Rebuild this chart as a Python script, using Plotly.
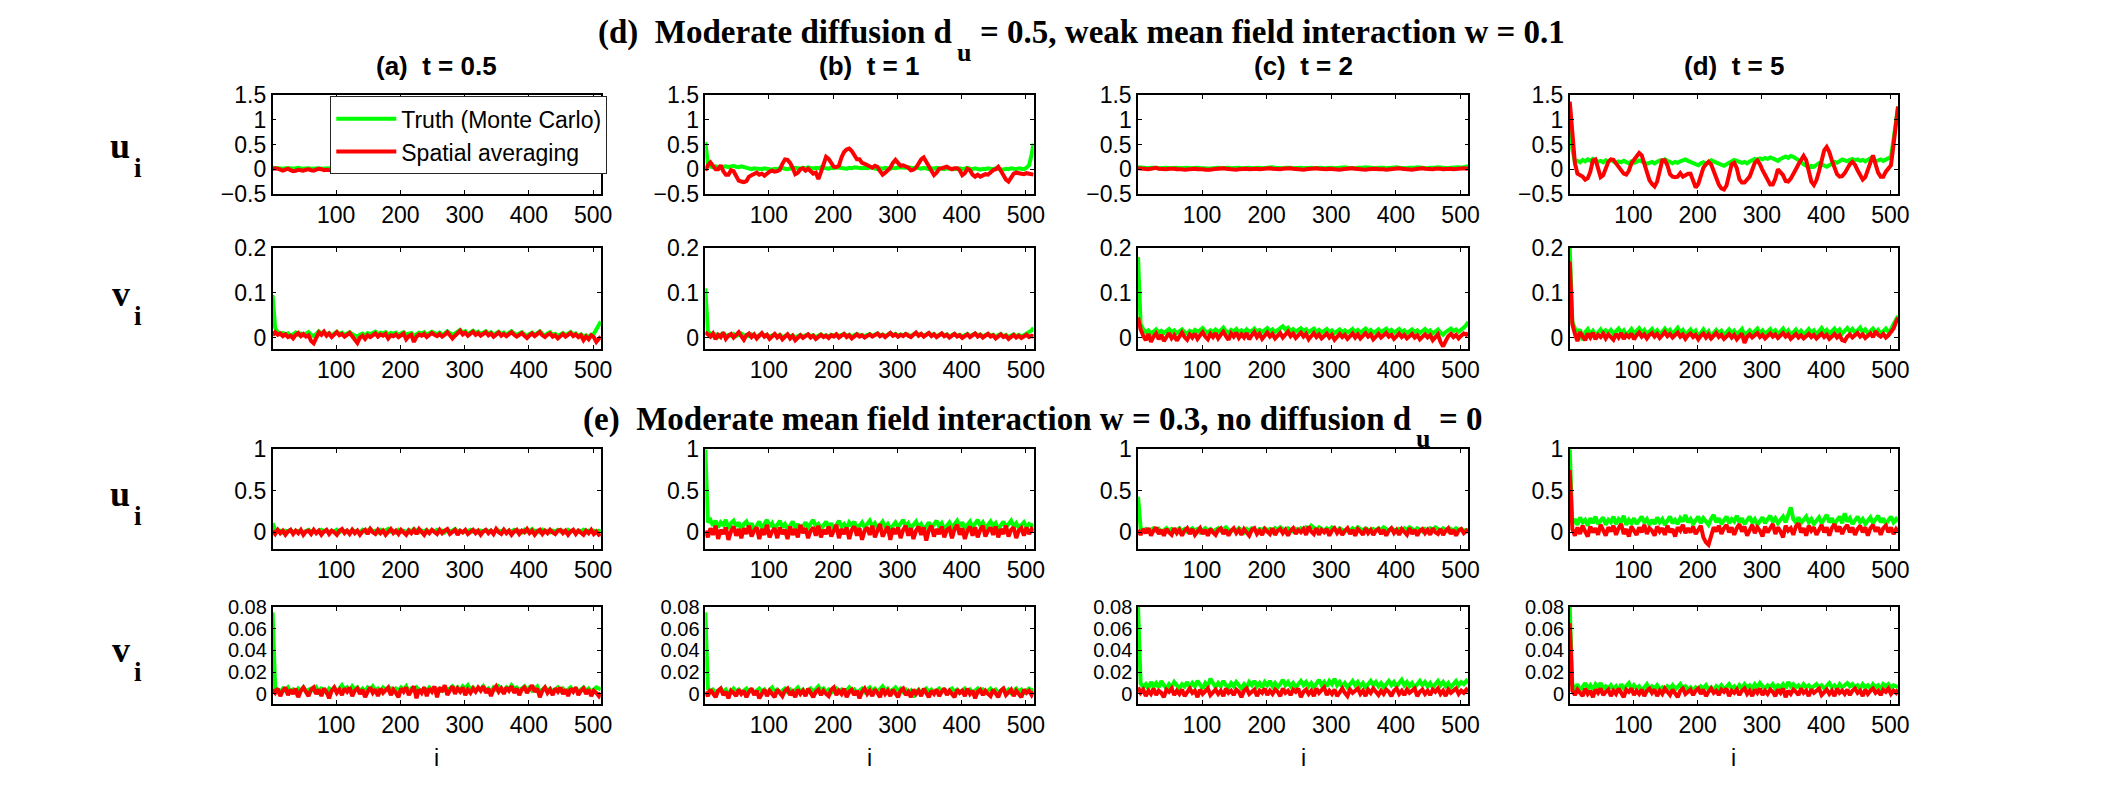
import plotly.graph_objects as go

W, H = 2109, 798

# spatial index i (sampled every 4th site, 1..512)
i_grid = list(range(1, 510, 4)) + [512]

# ---------------- (d) d_u = 0.5, w = 0.1 : u_i ----------------
u_d_t05_truth = [
 .03,.02,.03,.02,.01,.02,.03,.02,.01,.02,.03,.01,.02,.03,.02,.01,
 .02,.03,.02,.01,.02,.03,.02,.01,.02,.01,.02,.03,.02,.03,.02,.01,
 .02,.03,.02,.03,.04,.02,.03,.02,.03,.04,.03,.02,.03,.04,.03,.04,
 .03,.04,.03,.04,.05,.04,.05,.06,.04,.05,.03,.04,.03,.04,.03,.02,
 .03,.04,.05,.04,.03,.04,.03,.02,.03,.02,.03,.02,.03,.02,.03,.02,
 .02,.03,.02,.01,.02,.03,.02,.01,.02,.01,.02,.01,.02,.03,.02,.01,
 .02,.01,.02,.03,.02,.01,.02,.03,.02,.01,.02,.01,.02,.01,.02,.03,
 .02,.03,.02,.01,.02,.03,.02,.01,.02,.01,.02,.03,.02,.03,.04,.05,
 .06]
u_d_t05_avg = [
 0,.02,.01,-.02,-.03,-.01,.01,-.02,-.04,-.03,-.01,-.02,-.03,-.01,0,-.02,
 -.03,-.01,.01,0,-.02,-.01,-.02,-.04,-.03,-.02,-.01,.01,0,-.02,-.01,.01,
 .02,.01,-.01,0,.01,0,-.01,-.02,0,.02,.01,0,.01,.02,.03,.02,
 .04,.03,.02,.03,.04,.03,.05,.07,.05,.03,.02,.01,.02,.01,.03,.02,
 .01,.03,.06,.08,.05,.03,.02,.03,.02,.01,.03,.02,.01,0,.02,.01,
 0,.01,-.01,0,.02,.01,0,-.01,.01,0,-.02,-.01,.01,.02,0,-.02,
 -.03,-.01,0,.01,0,-.01,.01,.03,.02,0,-.01,.01,0,-.02,-.01,.01,
 .03,.02,0,-.01,.01,.02,0,-.01,-.02,0,.01,-.01,-.02,0,-.01,-.02,
 -.03]
u_d_t1_truth = [
 .55,.12,.05,.04,.06,.05,.03,.05,.06,.04,.05,.07,.05,.04,.06,.05,
 .03,.01,0,.02,.01,-.01,0,.02,.01,0,-.01,.01,0,.02,.03,.01,
 0,.02,.01,.03,.02,.01,.03,.02,.04,.02,.01,.03,.02,.04,.03,.02,
 .01,.03,.02,.04,.03,.02,.03,.01,.03,.02,.04,.03,.01,.02,.03,.02,
 .04,.03,.02,0,.02,.01,.03,.02,.01,.03,.02,.04,.03,.02,.03,.04,
 .03,.02,.04,.02,.01,.03,.01,0,.02,.01,.03,.02,.01,0,.02,.01,
 .02,0,.01,.02,0,.01,.03,.01,0,.02,.01,-.01,.01,0,.02,.01,
 0,.02,.01,0,-.01,.01,0,.02,.01,0,.02,.01,0,.03,.08,.3,
 .52]
u_d_t1_avg = [
 -.03,.08,.14,.07,0,0,.08,-.04,-.11,-.11,-.02,-.04,-.13,-.23,-.25,-.26,
 -.24,-.15,-.12,-.09,-.07,-.11,-.09,-.13,-.08,-.05,-.03,-.05,-.04,-.01,.11,.2,
 .19,.13,.03,-.1,-.07,0,.02,-.03,.01,-.05,-.09,-.07,-.2,-.06,.12,.25,
 .21,.12,.05,.04,.07,.24,.35,.4,.42,.37,.27,.2,.2,.13,.11,.09,
 .06,.03,.07,.05,-.04,-.11,-.07,-.02,.03,.13,.19,.13,.07,.08,.06,.03,
 -.02,-.01,.03,.12,.2,.24,.14,.05,-.04,-.12,-.07,.01,.02,.03,.05,.02,
 0,.02,.02,-.02,-.12,-.08,.01,-.02,-.11,-.15,-.11,-.15,-.13,-.1,-.11,-.05,
 -.02,0,.05,-.03,-.13,-.21,-.25,-.16,-.09,-.07,-.07,-.09,-.1,-.08,-.09,-.1,
 -.11]
u_d_t2_truth = [
 .04,.03,.02,.03,.02,.03,.04,.03,.02,.03,.02,.03,.02,.03,.04,.03,
 .02,.03,.02,.03,.02,.03,.04,.03,.02,.03,.02,.01,.02,.03,.02,.03,
 .02,.03,.04,.03,.02,.03,.02,.03,.02,.03,.04,.03,.02,.03,.04,.03,
 .02,.03,.02,.03,.04,.03,.02,.03,.02,.03,.04,.03,.02,.03,.02,.03,
 .02,.03,.02,.03,.02,.03,.04,.03,.02,.03,.02,.03,.02,.03,.02,.03,
 .04,.03,.02,.03,.02,.03,.02,.03,.04,.03,.02,.03,.02,.03,.04,.03,
 .02,.03,.02,.03,.04,.03,.02,.03,.02,.03,.02,.03,.04,.03,.02,.03,
 .02,.03,.02,.03,.04,.03,.02,.03,.02,.03,.04,.03,.04,.03,.04,.05,
 .06]
u_d_t2_avg = [
 .02,.01,.02,.01,0,.01,.02,.03,.01,0,-.01,0,.01,.02,.01,0,
 .01,0,-.01,0,.01,.02,.01,0,.01,0,-.01,-.02,-.01,0,.01,0,
 .01,.02,.01,0,.01,0,-.01,0,.01,.02,.01,0,.01,.02,.01,0,
 .01,0,.01,.02,.01,0,.01,0,.01,.02,.03,.02,.01,0,.01,0,
 -.01,0,.01,0,.01,.02,.01,0,-.01,0,.01,0,-.01,-.02,-.01,0,
 .01,0,.01,.02,.01,0,.01,0,-.01,0,.01,.02,.01,0,.01,0,
 -.01,0,.01,0,.01,.02,.01,0,.01,0,-.01,0,.01,.03,.02,.01,
 0,.01,0,.01,.02,.01,0,.01,.02,.01,0,.01,.02,.01,.02,.01,
 .02]
u_d_t5_truth = [
 1.2,.4,.15,.17,.14,.19,.16,.2,.17,.21,.18,.15,.17,.14,.18,.16,
 .19,.15,.13,.16,.14,.17,.15,.12,.16,.13,.15,.18,.16,.14,.11,.13,
 .15,.12,.14,.18,.16,.2,.17,.14,.12,.15,.13,.16,.18,.2,.17,.15,
 .13,.1,.08,.12,.14,.11,.15,.18,.16,.14,.12,.09,.07,.1,.13,.16,
 .19,.17,.14,.13,.15,.12,.16,.18,.21,.19,.22,.2,.23,.21,.24,.22,
 .2,.17,.21,.24,.26,.23,.27,.25,.22,.19,.15,.1,.06,.04,.07,.05,
 .09,.12,.1,.07,.05,.08,.12,.15,.13,.17,.2,.18,.16,.19,.21,.18,
 .2,.17,.19,.16,.2,.22,.19,.16,.18,.2,.17,.19,.21,.25,.6,1.05,
 1.27]
u_d_t5_avg = [
 1.37,.75,.12,-.09,-.12,-.15,-.21,-.18,-.05,.18,.2,0,-.16,-.12,.03,.15,
 .2,.19,.12,.05,-.01,-.09,-.11,-.03,.12,.2,.28,.33,.28,.13,-.08,-.22,
 -.3,-.35,-.25,-.05,.18,.18,.08,-.1,-.15,-.16,-.15,-.08,-.15,-.12,-.09,-.09,
 -.26,-.37,-.3,-.12,.03,.1,.15,.1,-.05,-.2,-.31,-.39,-.41,-.33,-.09,.1,
 .13,.02,-.2,-.27,-.27,-.21,-.15,-.01,.13,.18,.1,-.02,-.12,-.22,-.31,-.31,
 -.19,0,-.06,-.12,-.24,-.25,-.19,-.11,0,.1,.2,.27,.18,-.02,-.25,-.32,
 -.22,-.04,.16,.38,.45,.35,.18,.02,-.1,-.15,-.14,-.08,.03,.1,.15,.09,
 -.02,-.12,-.21,-.16,0,.17,.28,.1,-.07,-.15,-.15,-.05,.03,.08,.5,1.0,
 1.27]

# ---------------- (d) : v_i ----------------
v_d_t05_truth = [
 .095,.022,.012,.008,.01,.006,.009,.004,.007,.011,.006,.009,.005,.008,.012,.006,
 .003,.008,.014,.009,.012,.007,.01,.005,.009,.013,.008,.011,.006,.009,.012,.007,
 .004,.002,.006,.009,.005,.01,.007,.011,.013,.008,.011,.009,.012,.007,.01,.008,
 .011,.006,.009,.012,.007,.008,.01,.004,.007,.011,.009,.012,.006,.009,.013,.01,
 .007,.011,.006,.009,.014,.01,.006,.009,.012,.017,.011,.014,.008,.012,.015,.01,
 .013,.008,.011,.014,.009,.012,.006,.01,.013,.008,.011,.007,.01,.014,.009,.006,
 .009,.012,.007,.004,.008,.011,.006,.01,.014,.008,.005,.009,.012,.006,.008,.004,
 .007,.01,.005,.008,.012,.006,.009,.004,.007,.002,.005,.001,.006,.008,.018,.03,
 .036]
v_d_t05_avg = [
 .005,.012,.006,.009,.003,.007,.001,.004,-.002,.006,.01,.003,.008,.002,.005,-.008,
 -.013,.002,.011,.006,.013,.004,.009,.001,.007,.012,.005,.008,.002,.006,.01,.003,
 -.006,-.012,0,.004,-.003,.005,.001,.006,.009,.002,.007,.004,.008,-.002,.005,.003,
 .007,.001,.005,.009,-.004,.003,.006,-.01,.002,.007,.004,.008,.001,.005,.01,.006,
 .003,.008,.002,.006,.012,.005,-.002,.004,.009,.015,.007,.011,.004,.009,.013,.006,
 .01,.004,.008,.012,.005,.009,.002,.007,.011,.004,.008,.003,.007,.012,.006,.002,
 .006,.01,.004,-.001,.005,.009,.003,.007,.012,.005,.001,.006,.009,.002,.005,-.002,
 .004,.008,.002,.006,.01,.003,.007,.001,.005,-.006,.002,-.004,.005,.001,-.01,-.003,
 .002]
v_d_t1_truth = [
 .11,.014,.008,.004,.007,.002,.006,.009,.003,.006,.004,.008,.003,.006,.009,.004,
 .006,.003,.007,.004,.002,.005,.008,.004,.006,.002,.005,.007,.003,.006,.001,.004,
 .006,.002,.005,0,.003,.006,.002,.004,.007,.003,.005,.001,.004,.007,.003,.005,
 .002,.006,.004,.007,.003,.005,.008,.004,.006,.002,.005,.008,.004,.006,.003,.005,
 .008,.004,.006,.009,.005,.007,.003,.006,.01,.005,.008,.004,.007,.005,.008,.006,
 .003,.007,.01,.006,.008,.004,.007,.01,.005,.008,.003,.006,.009,.005,.007,.002,
 .005,.008,.004,.006,.002,.005,.008,.003,.006,.009,.004,.007,.002,.005,.008,.004,
 .006,.002,.005,.008,.003,.006,.001,.004,.007,.003,.006,.002,.005,.008,.012,.016,
 .022]
v_d_t1_avg = [
 .012,.008,.002,.009,-.004,.006,.001,.011,-.003,.004,.008,0,.006,.012,.003,-.005,
 .005,.009,.001,.007,-.002,.004,.01,.002,.006,-.003,.003,.008,0,.005,-.004,.002,
 .007,-.002,.004,-.006,.001,.005,-.001,.003,.007,0,.004,-.003,.002,.006,.001,.004,
 -.001,.005,.002,.007,0,.004,.008,.001,.005,-.002,.003,.007,.002,.005,0,.004,
 .007,.002,.005,.009,.003,.006,.001,.005,.01,.004,.007,.002,.006,.003,.008,.004,
 .001,.006,.011,.004,.008,.002,.006,.01,.003,.007,.001,.005,.009,.003,.006,0,
 .004,.008,.002,.005,-.001,.003,.007,.001,.005,.009,.002,.006,0,.004,.008,.002,
 .005,-.002,.003,.007,.001,.004,-.003,.002,.006,0,.004,-.001,.003,.006,.001,.004,
 .002]
v_d_t2_truth = [
 .18,.03,.018,.012,.016,.009,.013,.018,.011,.015,.01,.014,.019,.012,.016,.01,
 .014,.018,.012,.009,.015,.011,.017,.013,.016,.021,.014,.01,.016,.012,.018,.013,
 .016,.022,.014,.01,.017,.013,.019,.012,.016,.011,.018,.013,.015,.02,.013,.017,
 .012,.016,.021,.014,.018,.012,.016,.022,.025,.018,.022,.015,.019,.013,.017,.021,
 .014,.018,.012,.016,.02,.013,.017,.011,.015,.019,.012,.016,.01,.014,.018,.012,
 .016,.011,.015,.019,.012,.017,.011,.015,.02,.013,.017,.01,.014,.018,.012,.016,
 .02,.013,.017,.011,.015,.019,.012,.016,.01,.014,.018,.012,.016,.01,.014,.019,
 .012,.016,.009,.014,.018,.011,.006,.012,.016,.02,.014,.018,.013,.017,.022,.028,
 .035]
v_d_t2_avg = [
 .045,.018,.004,-.006,.008,-.01,.002,.009,-.004,.006,-.008,.003,.01,-.002,.005,-.007,
 .004,.011,.001,-.005,.007,0,.009,-.003,.005,.012,.002,-.004,.008,.001,.01,-.002,
 .006,.013,.003,-.005,.009,.002,.011,-.001,.007,0,.01,-.004,.005,.012,.001,.008,
 -.003,.006,.011,.002,.008,-.002,.005,.01,0,.007,.013,.003,.009,-.001,.006,.011,
 .002,.008,-.004,.005,.01,.001,.007,-.002,.004,.009,0,.006,-.005,.003,.008,.001,
 .006,-.003,.004,.009,0,.007,-.002,.005,.01,.002,.007,-.004,.003,.008,0,.005,
 .01,.002,.006,-.003,.004,.009,.001,.006,-.002,.004,.008,0,.005,-.004,.003,.007,
 0,.005,-.006,.002,.007,-.01,-.02,-.008,.003,.008,.001,.006,-.002,.004,.009,.006,
 .01]
v_d_t5_truth = [
 .2,.035,.02,.01,.018,-.006,.012,.019,.008,.015,.004,.013,.018,.009,.016,.011,
 .017,.008,.014,.02,.01,.016,.005,.012,.019,.009,.015,.021,.012,.017,.007,.013,
 .019,.01,.016,.006,.012,.02,.011,.017,.008,.014,.022,.012,.017,.006,.013,.018,
 .009,.015,.003,.011,.018,.008,.014,-.004,.01,.017,.009,.015,.005,.012,.018,.009,
 .015,.006,.012,.019,.004,.011,.016,.008,.013,.02,.01,.016,.007,.013,.019,.011,
 .016,.007,.013,.02,.01,.016,.005,.012,.018,.009,.015,.006,.012,.019,.01,.016,
 .007,.013,.021,.011,.017,.008,.014,.02,.012,.018,.009,.015,.021,.013,.019,.01,
 .016,.022,.012,.018,.009,.015,.02,.011,.017,.008,.014,.02,.012,.018,.03,.042,
 .048]
v_d_t5_avg = [
 .17,.03,.008,-.008,.012,.002,-.006,.009,0,.011,-.004,.006,.001,.009,-.002,.007,
 .002,-.005,.008,0,.01,-.003,.006,.001,.009,-.004,.005,.011,.002,.007,-.002,.006,
 .01,.002,.008,-.001,.005,.012,.003,.008,0,.006,.011,.002,.007,-.003,.005,.009,
 .001,.006,-.004,.004,.009,0,.007,-.002,.005,.01,.001,.006,-.003,.004,.008,0,
 .006,-.004,.003,.009,-.012,.002,.007,0,.005,.01,.001,.006,-.002,.004,.009,.002,
 .007,-.001,.005,.01,.002,.007,-.003,.004,.008,0,.005,-.002,.003,.008,.001,.006,
 -.002,.004,.009,.001,.006,-.003,.003,.008,0,.005,-.006,-.008,.002,.007,0,.005,
 .01,.002,.007,-.001,.004,.009,.001,.014,.006,.002,.008,0,.005,.012,.02,.035,
 .044]

# ---------------- (e) w = 0.3, d_u = 0 : u_i ----------------
u_e_t05_truth = [
 .11,.03,.01,.02,0,.02,.01,.03,0,.02,.01,.02,0,.01,.03,.01,
 .02,0,.01,.03,.01,.02,0,.02,.01,.03,0,.02,.01,.02,0,.03,
 .01,.02,0,.03,.01,.02,.04,.01,.02,0,.03,.01,.02,.04,.01,.02,
 0,.03,.01,.02,0,.03,.01,.04,.02,0,.02,.01,.03,0,.02,.01,
 .03,.01,.02,0,.03,.01,.02,.04,.01,.02,0,.02,.01,.03,.01,.02,
 0,.02,.01,.03,.01,.02,0,.03,.02,.01,.03,0,.02,.01,.03,.01,
 .02,0,.03,.01,.02,.04,.01,.02,0,.03,.01,.02,0,.02,.01,.03,
 .01,.02,0,.03,.01,.02,0,.02,.01,.03,0,.02,.01,.02,0,.02,
 .01]
u_e_t05_avg = [
 .02,-.02,.03,-.01,.02,-.03,.01,.03,-.02,.02,-.01,.03,-.03,.01,.02,-.02,
 .03,-.01,.02,-.03,.01,.03,-.02,.02,0,-.03,.02,.04,-.01,.02,-.02,.03,
 -.01,.02,-.03,.01,.03,-.02,.04,0,-.02,.03,-.01,.02,-.03,.01,.04,-.01,
 .02,-.02,.03,0,-.03,.02,-.01,.03,-.02,.04,.01,-.03,.02,-.01,.03,0,
 -.02,.03,-.01,.02,.04,-.02,.01,.03,-.03,.02,0,.03,-.02,.01,.03,-.01,
 .02,-.03,.01,.03,-.01,.02,-.02,.04,0,-.02,.03,-.01,.02,-.03,.01,.03,
 -.02,.02,0,.04,-.01,.02,-.03,.01,.03,-.02,.02,-.01,.03,0,-.02,.02,
 .03,-.01,.02,-.03,.01,.03,-.02,.02,0,-.03,.02,-.01,.03,-.02,.01,-.03,
 -.02]
u_e_t1_truth = [
 1.0,.12,.15,.08,.14,.06,.12,.09,.15,.04,.11,.14,.07,.12,.03,.1,
 .13,.06,.11,.02,.08,.13,.05,.1,.15,.07,.11,.04,.09,.14,.06,.1,
 .03,.08,.13,.05,.1,.02,.07,.12,.06,.11,.15,.07,.1,.04,.09,.13,
 .06,.11,.03,.08,.14,.07,.1,.05,.12,.08,.13,.04,.09,.12,.06,.1,
 .14,.07,.11,.05,.09,.13,.06,.1,.04,.08,.12,.06,.1,.15,.07,.11,
 .05,.09,.13,.06,.1,.03,.08,.12,.05,.1,.14,.07,.11,.04,.09,.12,
 .06,.1,.14,.07,.12,.05,.09,.13,.06,.11,.15,.08,.12,.05,.09,.13,
 .07,.11,.04,.09,.13,.06,.1,.14,.07,.11,.05,.09,.12,.06,.1,.08,
 .09]
u_e_t1_avg = [
 .02,-.06,.05,-.03,.08,-.08,.03,-.02,.06,-.09,.01,.07,-.04,.04,-.07,.05,
 -.02,.08,-.05,.02,.06,-.08,.04,-.03,.09,-.06,.01,.05,-.07,.06,-.02,.03,
 -.08,.07,-.03,.04,-.06,.09,-.01,.05,-.07,.02,.06,-.04,.08,-.06,.03,-.02,
 .07,-.05,.02,.09,-.07,.04,-.02,.06,-.08,.03,.07,-.04,.05,-.09,.02,.06,
 -.03,.08,-.06,.04,.1,-.05,.02,.07,-.09,.05,-.02,.06,-.07,.03,.08,-.04,
 .05,-.08,.02,.07,-.03,.06,-.1,.03,.08,-.05,.04,-.02,.07,-.06,.03,.05,
 -.07,.04,.09,-.03,.05,-.08,.02,.07,-.04,.06,-.06,.03,.08,-.05,.02,.06,
 -.03,.07,-.06,.04,-.02,.08,-.05,.03,.06,-.07,.02,.05,-.04,.06,-.02,.04,
 .01]
u_e_t2_truth = [
 .43,.05,.02,.04,.01,.03,.05,.02,.04,0,.03,.05,.02,.04,.01,.03,
 .05,.02,.04,.01,.03,.05,.02,.04,0,.03,.05,.02,.04,.01,.03,.05,
 .02,.04,.06,.03,.01,.04,.02,.05,.03,0,.04,.02,.05,.03,.01,.04,
 .03,.05,.02,.04,.01,.05,.03,.06,.04,.02,.05,.03,.01,.04,.02,.05,
 .03,.06,.04,.08,.05,.03,.06,.04,.02,.05,.03,.06,.04,.02,.05,.03,
 .01,.04,.02,.05,.03,.06,.04,.02,.05,.03,.01,.04,.02,.05,.03,.06,
 .04,.02,.05,.03,.01,.04,.02,.05,.03,.06,.04,.02,.05,.03,.01,.04,
 .02,.05,.03,.06,.04,.02,.05,.03,.01,.04,.02,.05,.03,.04,.02,.03,
 .02]
u_e_t2_avg = [
 .03,-.03,.04,-.01,.05,-.04,.02,.06,-.02,.03,-.04,.04,0,-.03,.05,-.01,
 .03,-.04,.02,.05,-.02,.04,-.03,.01,.05,-.02,.03,-.04,.04,0,-.03,.03,
 .05,-.02,.03,-.04,.02,.05,-.01,.03,-.03,.04,0,-.04,.03,.05,-.02,.02,
 -.03,.04,.01,-.02,.05,-.03,.02,.04,-.01,.03,-.04,.02,.05,-.02,.03,0,
 .04,-.03,.07,.01,-.02,.05,-.03,.03,0,.04,-.04,.02,.05,-.01,.03,-.03,
 .02,.05,-.02,.03,-.04,.04,.01,-.03,.05,-.01,.03,-.03,.02,.04,-.02,.03,
 -.04,.02,.05,-.01,.03,-.03,.04,0,-.03,.05,-.02,.03,-.04,.02,.04,-.01,
 .03,-.03,.05,0,-.02,.04,-.03,.02,.05,-.02,.03,-.04,.02,.04,-.01,.02,
 0]
u_e_t5_truth = [
 1.0,.1,.16,.09,.18,.12,.15,.08,.17,.11,.19,.1,.14,.18,.09,.15,
 .12,.19,.1,.16,.13,.2,.09,.15,.11,.17,.1,.14,.19,.12,.16,.09,
 .15,.1,.18,.12,.16,.09,.14,.19,.11,.15,.1,.17,.13,.21,.12,.16,
 .1,.15,.19,.11,.17,.13,.09,.16,.21,.12,.17,.1,.15,.19,.11,.16,
 .13,.2,.12,.17,.1,.15,.19,.12,.16,.09,.14,.18,.11,.16,.2,.13,
 .17,.11,.15,.19,.12,.2,.3,.16,.12,.18,.11,.15,.19,.12,.16,.1,
 .14,.18,.11,.16,.21,.12,.17,.1,.15,.19,.11,.23,.13,.17,.1,.15,
 .19,.12,.16,.1,.14,.18,.11,.16,.2,.12,.17,.1,.15,.19,.12,.16,
 .13]
u_e_t5_avg = [
 .75,.04,-.04,.06,-.02,.08,.01,-.05,.07,0,.05,-.03,.09,.02,-.04,.06,
 .01,.08,-.03,.05,.1,-.02,.04,-.05,.07,.02,-.03,.06,0,.09,-.02,.05,
 .02,-.04,.07,.01,.05,-.03,.08,0,.04,-.05,.06,.02,.09,-.01,.05,0,
 .07,-.02,.04,.08,-.06,-.12,-.15,-.05,.06,.01,.08,-.02,.05,.09,0,.06,
 -.03,.05,.1,.01,.07,-.04,.04,.09,-.01,.06,.02,-.05,.07,0,.05,.1,
 -.02,.06,.01,-.06,.08,.02,.05,-.03,.07,.11,0,.05,-.04,.08,.02,.06,
 -.03,.04,.09,0,.06,-.04,.05,.1,.01,.07,-.02,.05,.09,0,.06,-.03,
 .04,.08,0,.06,-.04,.05,.09,.01,.06,-.03,.05,.08,0,.06,-.02,.04,
 .01]

# ---------------- (e) : v_i ----------------
v_e_t05_truth = [
 .075,.006,.004,.002,.005,.003,.006,.002,.004,.001,.005,.003,.006,.002,.004,.005,
 .003,.006,.002,.005,.004,.001,.005,.003,.006,.002,.005,.008,.004,.006,.003,.007,
 .004,.006,.003,.005,.002,.006,.004,.007,.003,.005,.002,.006,.004,.003,.005,.002,
 .005,.003,.006,.004,.007,.002,.005,.003,.006,.004,.002,.005,.003,.006,.004,.005,
 .002,.005,.003,.006,.004,.005,.007,.004,.006,.003,.007,.005,.008,.004,.006,.003,
 .005,.004,.007,.003,.005,.002,.006,.004,.007,.005,.003,.006,.004,.008,.005,.006,
 .003,.005,.007,.004,.006,.003,.005,.007,.002,.004,.006,.003,.005,.002,.004,.006,
 .003,.005,.002,.004,.006,.003,.005,.002,.004,.006,.003,.005,.002,.004,.006,.005,
 .004]
v_e_t05_avg = [
 .004,.001,.005,-.002,.003,.006,-.001,.004,0,.005,-.003,.003,.006,.001,-.002,.004,
 .006,0,.004,-.002,.005,.002,-.004,.003,.006,.001,.004,-.001,.005,.002,.006,-.002,
 .003,.005,0,.004,-.003,.002,.006,.001,.004,-.002,.005,.001,.003,.006,-.001,.004,
 .001,-.003,.005,.002,.006,-.001,.003,.007,-.004,.004,.001,.006,-.002,.005,.002,.007,
 -.003,.006,.002,.008,-.001,.004,.007,0,.005,.002,.006,-.001,.004,.001,.005,.002,
 .006,.003,.007,.001,.005,-.002,.004,.007,.002,.005,0,.006,.003,.007,.001,.005,
 -.001,.004,.006,.001,.005,.008,.002,.005,-.003,.003,.006,.001,.004,-.001,.005,.002,
 .006,0,.004,-.002,.005,.002,.006,-.001,.003,.005,0,.004,-.002,.003,.001,-.002,
 .001]
v_e_t1_truth = [
 .075,.005,.002,.004,.001,.003,.005,.002,.004,0,.003,.005,.002,.004,.001,.003,
 .005,.002,.004,.001,.003,.005,.002,.004,.001,.003,.006,.002,.004,.001,.003,.005,
 .002,.004,.001,.003,.006,.002,.004,.001,.003,.005,.002,.004,.007,.003,.005,.002,
 .004,.001,.003,.005,.002,.004,.001,.003,.006,.002,.004,.001,.003,.005,.002,.004,
 .006,.003,.005,.002,.004,.007,.003,.005,.002,.004,.006,.003,.005,.002,.004,.001,
 .003,-.003,.002,.004,.001,.003,.005,.002,.004,.001,.003,.005,.002,.004,.001,.003,
 .005,.002,.004,.001,.003,.005,.002,.004,.001,.003,.005,.002,.004,.001,.003,.005,
 .002,.004,.001,.003,.005,.002,.004,.001,.003,.005,.002,.004,.001,.003,.005,.003,
 .004]
v_e_t1_avg = [
 .002,-.002,.004,0,-.003,.003,.005,-.001,.002,-.004,.003,.001,-.002,.004,0,.003,
 -.003,.002,.005,-.001,.003,-.004,.001,.004,-.002,.003,0,-.003,.004,.001,-.002,.003,
 .005,-.001,.002,-.003,.004,0,.003,-.002,.005,.001,-.003,.002,.004,-.001,.003,0,
 -.002,.004,.006,-.001,.003,0,.005,-.003,.002,.004,-.001,.003,-.004,.002,.005,0,
 .003,-.002,.004,.001,-.003,.005,0,.003,-.002,.004,.001,-.003,.003,.005,-.001,.002,
 -.003,.004,0,.003,-.002,.005,.001,-.003,.003,0,.004,-.002,.002,.005,-.001,.003,
 0,-.003,.004,.001,.003,-.002,.005,0,.003,-.004,.002,.004,-.001,.003,0,-.002,
 .004,.001,-.003,.003,.005,-.001,.002,.004,-.002,.003,0,-.003,.004,.001,.003,-.001,
 .002]
v_e_t2_truth = [
 .08,.01,.006,.009,.005,.011,.007,.01,.006,.012,.008,.005,.009,.006,.011,.008,
 .005,.009,.007,.011,.006,.01,.007,.012,.008,.005,.01,.007,.014,.009,.006,.01,
 .007,.012,.008,.006,.01,.007,.011,.008,.005,.009,.006,.011,.008,.012,.007,.01,
 .006,.011,.008,.012,.007,.01,.006,.009,.013,.008,.011,.007,.01,.006,.009,.012,
 .008,.011,.007,.01,.006,.009,.013,.008,.011,.007,.012,.009,.014,.008,.011,.007,
 .01,.006,.009,.012,.008,.011,.007,.01,.006,.009,.012,.008,.011,.007,.01,.006,
 .009,.012,.008,.011,.007,.01,.013,.008,.011,.007,.01,.006,.009,.012,.008,.011,
 .007,.01,.006,.009,.012,.008,.011,.007,.01,.006,.009,.012,.008,.011,.009,.012,
 .01]
v_e_t2_avg = [
 .006,.001,.004,-.002,.003,0,.005,-.001,.003,.001,-.003,.004,.002,.005,-.001,.003,
 0,.004,-.002,.002,.005,.001,.003,-.003,.004,0,.003,.005,-.001,.002,.004,0,
 .003,-.002,.005,.001,.003,-.001,.004,.002,-.003,.003,.005,0,.002,.004,-.002,.003,
 .001,.005,-.001,.003,0,.004,.002,-.002,.005,.001,.003,-.001,.004,.002,.005,-.003,
 .002,.004,0,.003,-.002,.005,.001,.003,.006,-.001,.003,0,.004,-.002,.002,.005,
 .001,-.002,.004,.001,.003,.005,0,.003,-.002,.004,.001,.005,.002,-.001,.003,0,
 .004,.002,-.002,.003,.005,0,.003,-.001,.004,.001,.003,.005,-.002,.002,.004,0,
 .003,-.001,.004,.002,.005,0,.003,-.002,.004,.001,.003,.005,0,.003,.001,.004,
 .002]
v_e_t5_truth = [
 .08,.008,.005,.009,.003,.007,.01,.005,.008,.004,.009,.006,.01,.004,.007,.005,
 .008,.004,.007,.003,.009,.005,.007,.01,.004,.008,.005,.007,.003,.006,.009,.004,
 .007,.005,.008,.004,.006,.003,.007,.005,.008,.004,.006,.009,.005,.007,.004,.006,
 .003,.006,.004,.007,.005,.008,.004,.006,.003,.007,.005,.008,.004,.006,.009,.005,
 .007,.004,.008,.005,.009,.006,.008,.005,.009,.006,.01,.007,.005,.008,.006,.009,
 .005,.008,.006,.009,.005,.011,.007,.009,.006,.008,.005,.009,.006,.008,.005,.007,
 .009,.006,.008,.005,.007,.01,.006,.008,.005,.009,.006,.008,.01,.007,.009,.006,
 .008,.005,.009,.006,.008,.005,.009,.006,.008,.005,.009,.007,.009,.006,.008,.007,
 .006]
v_e_t5_avg = [
 .065,.003,-.001,.004,.001,-.002,.005,0,.003,-.003,.004,.001,.005,-.001,.002,.004,
 -.002,.003,0,.005,.001,-.003,.004,.002,.005,-.001,.003,0,.004,-.002,.003,.005,
 .001,.004,-.002,.003,0,.005,.002,-.001,.004,.001,-.003,.003,.005,0,.002,.004,
 -.001,.003,.005,0,.004,-.002,.002,.005,.001,.003,-.001,.004,.002,.005,-.002,.003,
 .001,.004,-.001,.003,.005,0,.003,-.002,.004,.001,.005,-.001,.003,0,.004,.002,
 -.002,.004,.001,.005,-.003,.003,0,.004,.002,-.001,.005,.001,.003,-.002,.004,.001,
 .003,.005,-.001,.002,.004,0,.003,-.002,.005,.001,.003,0,.004,-.001,.003,.005,
 .001,.003,-.002,.004,0,.003,.005,.001,.003,-.001,.004,.002,.005,0,.003,.001,
 .004]

# ---------------- labels / axes ----------------
col_titles = ["(a)\u00a0 t = 0.5", "(b)\u00a0 t = 1", "(c)\u00a0 t = 2", "(d)\u00a0 t = 5"]
row_letters = ["u", "v", "u", "v"]
x_ticks = [100, 200, 300, 400, 500]
y_ranges = [[-0.5, 1.5], [-0.025, 0.2], [-0.2, 1.0], [-0.009, 0.08]]
y_tickvals = [[-0.5, 0, 0.5, 1, 1.5], [0, 0.1, 0.2], [0, 0.5, 1], [0, 0.02, 0.04, 0.06, 0.08]]
y_ticktext = [["\u22120.5", "0", "0.5", "1", "1.5"], ["0", "0.1", "0.2"], ["0", "0.5", "1"],
              ["0", "0.02", "0.04", "0.06", "0.08"]]
y_tickfont_size = [23, 23, 23, 20]
legend_names = ["Truth (Monte Carlo)", "Spatial averaging"]

panels = [
    [(u_d_t05_truth, u_d_t05_avg), (u_d_t1_truth, u_d_t1_avg), (u_d_t2_truth, u_d_t2_avg), (u_d_t5_truth, u_d_t5_avg)],
    [(v_d_t05_truth, v_d_t05_avg), (v_d_t1_truth, v_d_t1_avg), (v_d_t2_truth, v_d_t2_avg), (v_d_t5_truth, v_d_t5_avg)],
    [(u_e_t05_truth, u_e_t05_avg), (u_e_t1_truth, u_e_t1_avg), (u_e_t2_truth, u_e_t2_avg), (u_e_t5_truth, u_e_t5_avg)],
    [(v_e_t05_truth, v_e_t05_avg), (v_e_t1_truth, v_e_t1_avg), (v_e_t2_truth, v_e_t2_avg), (v_e_t5_truth, v_e_t5_avg)],
]

# ---------------- layout geometry (pixels) ----------------
col_px = [(274, 604), (709, 1039), (1144, 1476), (1578, 1908)]
row_px = [(85, 187), (243, 347), (451, 554), (614, 714)]

SANS = "Liberation Sans, Arial, Helvetica, sans-serif"
SERIF = "Liberation Serif, Times New Roman, serif"
GREEN = "#00ff00"
RED = "#ff0000"
LW = 4

fig = go.Figure()
layout = dict(width=W, height=H, autosize=False, margin=dict(l=0, r=0, t=0, b=0),
              paper_bgcolor="white", plot_bgcolor="white", showlegend=True)

def px_x(p):
    return p / W

def px_y(p):
    return 1 - p / H

n = 0
for r in range(4):
    for c in range(4):
        n += 1
        xa = "x" if n == 1 else f"x{n}"
        ya = "y" if n == 1 else f"y{n}"
        truth, avg = panels[r][c]
        fig.add_trace(go.Scatter(x=i_grid, y=truth, mode="lines", xaxis=xa, yaxis=ya,
                                 line=dict(color=GREEN, width=LW), name=legend_names[0],
                                 showlegend=(n == 1), legendrank=1))
        fig.add_trace(go.Scatter(x=i_grid, y=avg, mode="lines", xaxis=xa, yaxis=ya,
                                 line=dict(color=RED, width=LW), name=legend_names[1],
                                 showlegend=(n == 1), legendrank=2))
        x0, x1 = col_px[c]
        y0, y1 = row_px[r]
        axcommon = dict(showline=True, linecolor="black", linewidth=1.5, mirror="ticks",
                        ticks="inside", ticklen=4, tickwidth=1, tickcolor="black",
                        showgrid=False, zeroline=False)
        layout["xaxis" if n == 1 else f"xaxis{n}"] = dict(
            axcommon, domain=[px_x(x0), px_x(x1)], range=[1, 512], anchor=ya,
            tickmode="array", tickvals=x_ticks, ticktext=[str(v) for v in x_ticks],
            tickfont=dict(family=SANS, size=23, color="black"))
        layout["yaxis" if n == 1 else f"yaxis{n}"] = dict(
            axcommon, domain=[px_y(y1), px_y(y0)], range=y_ranges[r], anchor=xa,
            tickmode="array", tickvals=y_tickvals[r], ticktext=y_ticktext[r],
            tickfont=dict(family=SANS, size=y_tickfont_size[r], color="black"))

ann = []
# column titles and x-axis labels
for c in range(4):
    xc = (col_px[c][0] + col_px[c][1]) / 2
    ann.append(dict(x=px_x(xc), y=px_y(55), xref="paper", yref="paper", text="<b>" + col_titles[c] + "</b>",
                    showarrow=False, xanchor="center", yanchor="middle",
                    font=dict(family=SANS, size=26, color="black")))
    ann.append(dict(x=px_x(xc), y=px_y(770), xref="paper", yref="paper", text="i",
                    showarrow=False, xanchor="center", yanchor="middle",
                    font=dict(family=SANS, size=23, color="black")))

# row labels u_i / v_i
row_letter_y = [141, 294, 501, 662]
for r in range(4):
    ann.append(dict(x=px_x(133), y=px_y(row_letter_y[r] - 4), xref="paper", yref="paper",
                    text="<b>" + row_letters[r] + "</b>", showarrow=False,
                    xanchor="right", yanchor="middle", font=dict(family=SERIF, size=36, color="black")))
    ann.append(dict(x=px_x(133), y=px_y(row_letter_y[r] + 19), xref="paper", yref="paper",
                    text="<b>i</b>", showarrow=False,
                    xanchor="left", yanchor="middle", font=dict(family=SERIF, size=27, color="black")))

# section titles (d) and (e)
def section(parts_left, sub_x, sub_y, right_text, right_x, left_end, yc):
    ann.append(dict(x=px_x(left_end), y=px_y(yc), xref="paper", yref="paper", text="<b>" + parts_left + "</b>",
                    showarrow=False, xanchor="right", yanchor="middle",
                    font=dict(family=SERIF, size=33, color="black")))
    ann.append(dict(x=px_x(sub_x), y=px_y(sub_y), xref="paper", yref="paper", text="<b>u</b>",
                    showarrow=False, xanchor="left", yanchor="middle",
                    font=dict(family=SERIF, size=26, color="black")))
    ann.append(dict(x=px_x(right_x), y=px_y(yc), xref="paper", yref="paper", text="<b>" + right_text + "</b>",
                    showarrow=False, xanchor="left", yanchor="middle",
                    font=dict(family=SERIF, size=33, color="black")))

section("(d)\u00a0 Moderate diffusion d", 960, 41, "= 0.5, weak mean field interaction w = 0.1", 983, 959, 20)
section("(e)\u00a0 Moderate mean field interaction w = 0.3, no diffusion d", 1421, 440, "= 0", 1445, 1420, 420)

layout["annotations"] = ann
layout["legend"] = dict(x=px_x(332), y=px_y(86), xanchor="left", yanchor="top",
                        bgcolor="white", bordercolor="#262626", borderwidth=1,
                        font=dict(family=SANS, size=23, color="black"),
                        tracegroupgap=0, itemwidth=60)

fig.update_layout(**layout)
fig.write_html("out.html")
